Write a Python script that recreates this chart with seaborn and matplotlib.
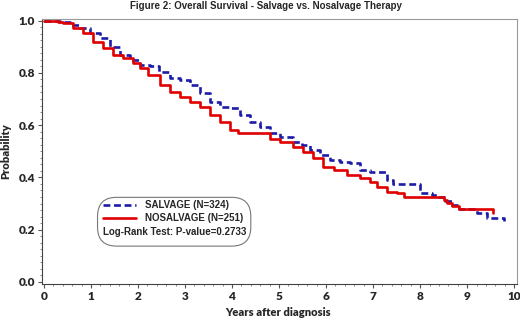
import numpy as np
import pandas as pd
import matplotlib
matplotlib.use("Agg")
import matplotlib.pyplot as plt
import seaborn as sns
from matplotlib.ticker import MultipleLocator
from matplotlib.patches import FancyBboxPatch
from matplotlib.lines import Line2D

# Kaplan-Meier step points
salvage_t = [0.0, 0.34, 0.55, 0.77, 0.98, 1.19, 1.40, 1.62, 1.83, 2.04, 2.26, 2.45,
             2.68, 2.89, 3.11, 3.32, 3.53, 3.74, 3.96, 4.17, 4.38, 4.60, 4.80, 5.02,
             5.30, 5.48, 5.66, 5.87, 6.09, 6.30, 6.51, 6.72, 6.94, 7.29, 7.43, 8.00,
             8.25, 8.39, 8.53, 8.67, 8.82, 9.20, 9.42, 9.79]
salvage_s = [1.0, 0.993, 0.983, 0.970, 0.951, 0.932, 0.900, 0.868, 0.849, 0.830, 0.825, 0.805,
             0.779, 0.772, 0.753, 0.722, 0.690, 0.670, 0.664, 0.639, 0.613, 0.594, 0.569, 0.556,
             0.537, 0.524, 0.505, 0.486, 0.467, 0.460, 0.454, 0.428, 0.422, 0.390, 0.375, 0.339,
             0.333, 0.324, 0.311, 0.294, 0.278, 0.263, 0.244, 0.234]

nosalvage_t = [0.0, 0.30, 0.41, 0.62, 0.84, 1.05, 1.26, 1.47, 1.69, 1.90, 2.05, 2.22,
               2.47, 2.68, 2.89, 3.11, 3.32, 3.53, 3.74, 3.96, 4.13, 4.81, 5.02, 5.30,
               5.52, 5.73, 5.94, 6.16, 6.44, 6.72, 6.94, 7.08, 7.29, 7.50, 7.65, 8.50,
               8.57, 8.67, 8.82, 9.56]
nosalvage_s = [1.0, 0.995, 0.989, 0.970, 0.951, 0.919, 0.894, 0.868, 0.855, 0.836, 0.818, 0.792,
               0.753, 0.728, 0.709, 0.690, 0.670, 0.639, 0.613, 0.581, 0.571, 0.548, 0.537, 0.517,
               0.498, 0.473, 0.441, 0.428, 0.409, 0.397, 0.384, 0.364, 0.345, 0.339, 0.324, 0.314,
               0.301, 0.291, 0.278, 0.263]

groups = ["SALVAGE (N=324)", "NOSALVAGE (N=251)"]
pvalue_text = "Log-Rank Test: P-value=0.2733"
x_ticks = list(range(0, 11))
y_ticks = [0.0, 0.2, 0.4, 0.6, 0.8, 1.0]

df = pd.concat([
    pd.DataFrame({"t": salvage_t, "s": salvage_s, "group": groups[0]}),
    pd.DataFrame({"t": nosalvage_t, "s": nosalvage_s, "group": groups[1]}),
], ignore_index=True)

sns.set_theme(style="white")
plt.rcParams["font.family"] = ["Liberation Sans", "DejaVu Sans"]

blue = "#1c1ca8"
red = "#e00000"
lw = 1.9

fig = plt.figure(figsize=(5.2, 3.19), dpi=100)
ax = fig.add_axes([0.0808, 0.1097, 0.9125, 0.8307])

sns.lineplot(data=df, x="t", y="s", hue="group", style="group",
             palette={groups[0]: blue, groups[1]: red},
             dashes={groups[0]: (2.6, 1.4), groups[1]: ""},
             estimator=None, sort=False, drawstyle="steps-post",
             linewidth=lw, legend=False, ax=ax)

ax.set_xlim(-0.04, 10.05)
ax.set_ylim(-0.008, 1.006)
ax.set_xticks(x_ticks)
ax.set_yticks(y_ticks)
ax.set_xticklabels([str(v) for v in x_ticks])
ax.set_yticklabels([f"{v:.1f}" for v in y_ticks])
ax.xaxis.set_minor_locator(MultipleLocator(0.2))
ax.yaxis.set_minor_locator(MultipleLocator(0.025))
ax.tick_params(which="major", direction="out", length=3, width=0.8, color="#555555",
               pad=2, labelsize=8.5, left=True, bottom=True)
ax.tick_params(which="minor", direction="out", length=1.5, width=0.6, color="#777777",
               left=True, bottom=True)
for lab in ax.get_xticklabels() + ax.get_yticklabels():
    lab.set_fontfamily(["Lato", "DejaVu Sans"])
    lab.set_fontweight("heavy")

for side in ["left", "bottom"]:
    ax.spines[side].set_color("#444444")
    ax.spines[side].set_linewidth(0.8)
for side in ["top", "right"]:
    ax.spines[side].set_color("#999999")
    ax.spines[side].set_linewidth(0.8)

ax.set_xlabel("Years after diagnosis", fontsize=8, fontweight="heavy",
              family=["Lato", "DejaVu Sans"])
ax.set_ylabel("Probability", fontsize=8, fontweight="heavy",
              family=["Lato", "DejaVu Sans"])
ax.xaxis.set_label_coords(0.498, -0.085)
ax.yaxis.set_label_coords(-0.065, 0.502)

fig.text(0.512, 0.982, "Figure 2: Overall Survival - Salvage vs. Nosalvage Therapy",
         ha="center", va="center", fontsize=7, fontweight="bold")

# legend box with the log-rank result
box = FancyBboxPatch((0.117, 0.143), 0.323, 0.184, transform=ax.transAxes,
                     boxstyle="round,pad=0,rounding_size=0.04",
                     facecolor="white", edgecolor="#777777", linewidth=0.8,
                     mutation_aspect=1.8)
ax.add_patch(box)
ax.add_line(Line2D([0.129, 0.198], [0.298, 0.298], transform=ax.transAxes,
                   color=blue, lw=lw, dashes=(2.6, 1.4)))
ax.add_line(Line2D([0.129, 0.198], [0.250, 0.250], transform=ax.transAxes,
                   color=red, lw=lw))
ax.text(0.217, 0.298, groups[0], transform=ax.transAxes, ha="left", va="center",
        fontsize=7, fontweight="bold")
ax.text(0.217, 0.250, groups[1], transform=ax.transAxes, ha="left", va="center",
        fontsize=7, fontweight="bold")
ax.text(0.129, 0.197, pvalue_text, transform=ax.transAxes, ha="left", va="center",
        fontsize=7, fontweight="bold")

fig.savefig("out.png", dpi=100, facecolor="white")
